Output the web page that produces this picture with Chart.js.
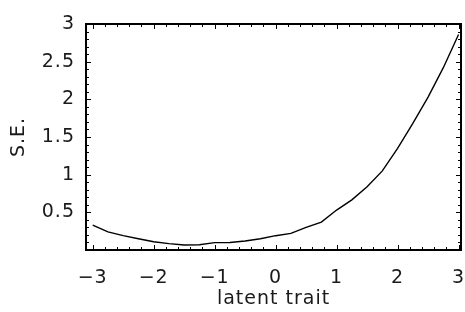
<!DOCTYPE html>
<html>
<head>
<meta charset="utf-8">
<script src="https://cdn.jsdelivr.net/npm/chart.js@4"></script>
<style>
  html, body { margin: 0; padding: 0; background: #fff; }
  #chart { display: block; }
</style>
</head>
<body>
<canvas id="chart" width="465" height="312"></canvas>
<script>
// latent trait grid and standard errors
const traitValues = [-3, -2.75, -2.5, -2.25, -2, -1.75, -1.5, -1.25, -1, -0.75, -0.5, -0.25,
                     0, 0.25, 0.5, 0.75, 1, 1.25, 1.5, 1.75, 2, 2.25, 2.5, 2.75, 3];
const seValues = [0.33, 0.24, 0.19, 0.15, 0.11, 0.085, 0.067, 0.07, 0.098, 0.1, 0.12, 0.15,
                  0.19, 0.22, 0.3, 0.37, 0.53, 0.665, 0.84, 1.05, 1.35, 1.68, 2.03, 2.42, 2.86];

const xTicks = [-3, -2, -1, 0, 1, 2, 3];
const yTicks = [0.5, 1, 1.5, 2, 2.5, 3];

const FONT = { family: 'DejaVu Sans', size: 19 };
const TEXT_COLOR = '#1a1a1a';

// minus sign like the original
const fmt = v => (v < 0 ? '\u2212' + Math.abs(v) : String(v));

// the original lettering is wide, so space it out a little
const spacingPlugin = {
    id: 'spacing',
    beforeUpdate(chart) { chart.ctx.letterSpacing = '1px'; },
    beforeDraw(chart) { chart.ctx.letterSpacing = '1px'; }
};

// frame with inward ticks on all four sides
const framePlugin = {
    id: 'frame',
    afterDraw(chart) {
        const { ctx, chartArea: { left, right, top, bottom }, scales: { x, y } } = chart;
        ctx.save();
        ctx.strokeStyle = '#000';
        ctx.lineWidth = 1;
        ctx.beginPath();
        for (let i = -15; i <= 15; i++) {
            const v = i / 5;
            const px = Math.round(x.getPixelForValue(v)) + 0.5;
            const len = i % 5 === 0 ? 5 : 3;
            ctx.moveTo(px, bottom); ctx.lineTo(px, bottom - len);
            ctx.moveTo(px, top); ctx.lineTo(px, top + len);
        }
        for (let i = 0; i <= 30; i++) {
            const v = i / 10;
            const py = Math.round(y.getPixelForValue(v)) + 0.5;
            const len = i % 5 === 0 ? 5 : 3;
            ctx.moveTo(left, py); ctx.lineTo(left + len, py);
            ctx.moveTo(right, py); ctx.lineTo(right - len, py);
        }
        ctx.stroke();
        ctx.lineWidth = 2;
        ctx.strokeRect(left, top, right - left, bottom - top);
        ctx.restore();
    }
};

new Chart(document.getElementById('chart'), {
    type: 'line',
    data: {
        datasets: [{
            data: traitValues.map((t, i) => ({ x: t, y: seValues[i] })),
            borderColor: '#000',
            borderWidth: 1.4,
            pointRadius: 0,
            tension: 0,
            fill: false
        }]
    },
    options: {
        responsive: false,
        animation: false,
        devicePixelRatio: 1,
        layout: { padding: { top: 24, right: 4, left: 0, bottom: 0 } },
        plugins: {
            legend: { display: false },
            tooltip: { enabled: false }
        },
        scales: {
            x: {
                type: 'linear',
                min: -3.11,
                max: 3.04,
                afterBuildTicks: s => { s.ticks = xTicks.map(v => ({ value: v })); },
                afterFit: s => { s.height = 62; s.paddingLeft = 0; s.paddingRight = 0; },
                grid: { display: false },
                border: { display: false },
                ticks: {
                    callback: v => fmt(v),
                    font: FONT,
                    color: TEXT_COLOR,
                    padding: 9,
                    maxRotation: 0,
                    autoSkip: false
                },
                title: {
                    display: true,
                    text: 'latent trait',
                    font: FONT,
                    color: TEXT_COLOR,
                    padding: { top: 0, bottom: 2 }
                }
            },
            y: {
                min: 0,
                max: 3,
                afterBuildTicks: s => { s.ticks = yTicks.map(v => ({ value: v })); },
                afterFit: s => { s.width = 86; s.paddingTop = 0; s.paddingBottom = 0; },
                grid: { display: false },
                border: { display: false },
                ticks: {
                    callback: v => fmt(v),
                    font: FONT,
                    color: TEXT_COLOR,
                    padding: 3,
                    autoSkip: false
                },
                title: {
                    display: true,
                    text: 'S.E.',
                    font: FONT,
                    color: TEXT_COLOR,
                    padding: { top: 8, bottom: 0 }
                }
            }
        }
    },
    plugins: [spacingPlugin, framePlugin]
});
</script>
</body>
</html>
